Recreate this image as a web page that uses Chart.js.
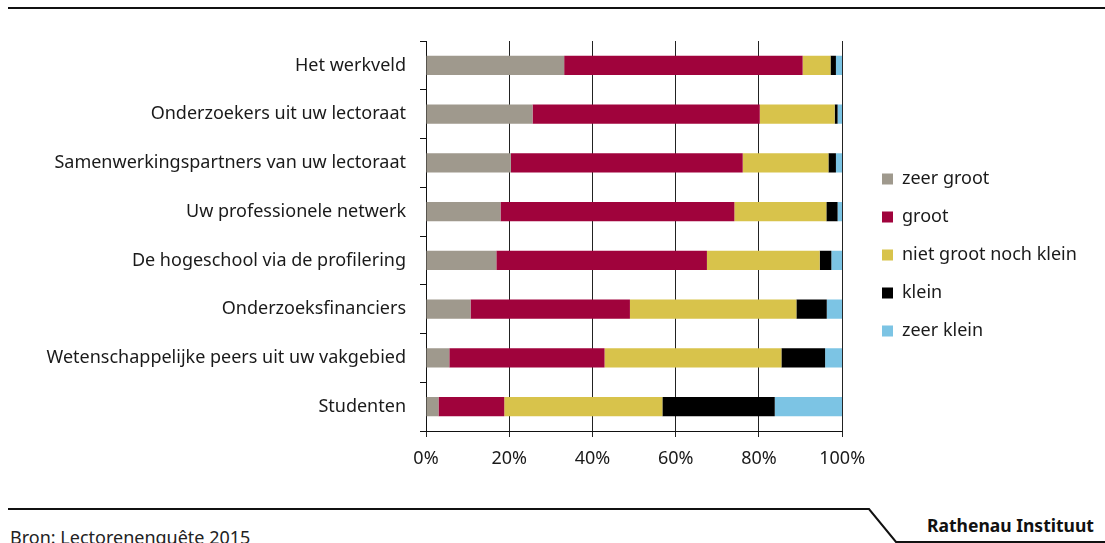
<!DOCTYPE html>
<html>
<head>
<meta charset="utf-8">
<script src="https://cdn.jsdelivr.net/npm/chart.js@4.4.0/dist/chart.umd.min.js"></script>
<style>
  html, body { margin: 0; padding: 0; background: #fff; }
  body { width: 1105px; height: 543px; position: relative; overflow: hidden; font-family: "Noto Sans", sans-serif; }
  #wrap { position: absolute; left: 0; top: 0; width: 1105px; height: 490px; }
  #deco { position: absolute; left: 0; top: 0; }
  .bron { position: absolute; left: 10px; top: 525px; font-size: 18px; line-height: 24px; color: #222; }
  .rath { position: absolute; left: 927px; top: 513px; font-size: 17.5px; line-height: 24px; font-weight: bold; color: #111; }
</style>
</head>
<body>
<svg id="deco" width="1105" height="543">
  <line x1="8" y1="8" x2="1105" y2="8" stroke="#111" stroke-width="2"/>
  <polyline points="8,509 869,509 896,542 1105,542" fill="none" stroke="#111" stroke-width="2"/>
</svg>
<div id="wrap"><canvas id="chart"></canvas></div>
<div class="bron">Bron: Lectorenenquête 2015</div>
<div class="rath">Rathenau Instituut</div>
<script>
const categories = [
  "Het werkveld",
  "Onderzoekers uit uw lectoraat",
  "Samenwerkingspartners van uw lectoraat",
  "Uw professionele netwerk",
  "De hogeschool via de profilering",
  "Onderzoeksfinanciers",
  "Wetenschappelijke peers uit uw vakgebied",
  "Studenten"
];
const seriesNames = ["zeer groot", "groot", "niet groot noch klein", "klein", "zeer klein"];
const zeerGroot = [33.2, 25.6, 20.4, 17.9, 16.9, 10.7, 5.6, 3.0];
const groot = [57.3, 54.6, 55.7, 56.2, 50.6, 38.3, 37.3, 15.8];
const nietGrootNochKlein = [6.7, 18.0, 20.6, 22.1, 27.1, 40.0, 42.5, 38.0];
const klein = [1.3, 0.7, 1.8, 2.7, 2.8, 7.3, 10.5, 27.0];
const zeerKlein = [1.5, 1.1, 1.5, 1.1, 2.6, 3.7, 4.1, 16.2];
const xTicks = [0, 20, 40, 60, 80, 100];

const colors = ["#9f998d", "#a0033c", "#d8c34b", "#000000", "#7cc4e4"];
const values = [zeerGroot, groot, nietGrootNochKlein, klein, zeerKlein];

const datasets = seriesNames.map((name, i) => ({
  label: name,
  data: values[i],
  backgroundColor: colors[i],
  borderWidth: 0,
  barPercentage: 0.39,
  categoryPercentage: 1
}));

Chart.defaults.font.family = '"Noto Sans", sans-serif';
Chart.defaults.color = "#1a1a1a";

// move the legend block to where it sits in the original
const legendSpot = {
  id: "legendSpot",
  afterLayout(chart) {
    const lg = chart.legend;
    if (!lg) return;
    const dx = 862 - lg.left;
    lg.left += dx; lg.right += dx;
    lg.top -= 6; lg.bottom -= 6;
  }
};

new Chart(document.getElementById("chart"), {
  type: "bar",
  data: { labels: categories, datasets: datasets },
  plugins: [legendSpot],
  options: {
    indexAxis: "y",
    responsive: true,
    maintainAspectRatio: false,
    animation: false,
    layout: { padding: { top: 41, bottom: 9, left: 0, right: 38 } },
    plugins: {
      tooltip: { enabled: false },
      legend: {
        position: "right",
        labels: {
          boxWidth: 11,
          boxHeight: 11,
          padding: 20,
          font: { size: 18 },
          color: "#1a1a1a"
        }
      }
    },
    scales: {
      x: {
        stacked: true,
        min: 0,
        max: 100,
        afterBuildTicks: (s) => { s.ticks = xTicks.map(v => ({ value: v })); },
        afterFit: (s) => { s.height = 50; },
        ticks: { callback: (v) => v + "%", font: { size: 18 }, padding: 11, color: "#1a1a1a" },
        grid: { color: "#222", lineWidth: 1, tickLength: 6 },
        border: { color: "#111", width: 1 }
      },
      y: {
        stacked: true,
        afterFit: (s) => { s.width = 426; },
        ticks: { font: { size: 18 }, padding: 14, color: "#1a1a1a" },
        grid: { drawOnChartArea: false, offset: true, tickLength: 6, color: "#111" },
        border: { color: "#111", width: 1 }
      }
    }
  }
});
</script>
</body>
</html>
